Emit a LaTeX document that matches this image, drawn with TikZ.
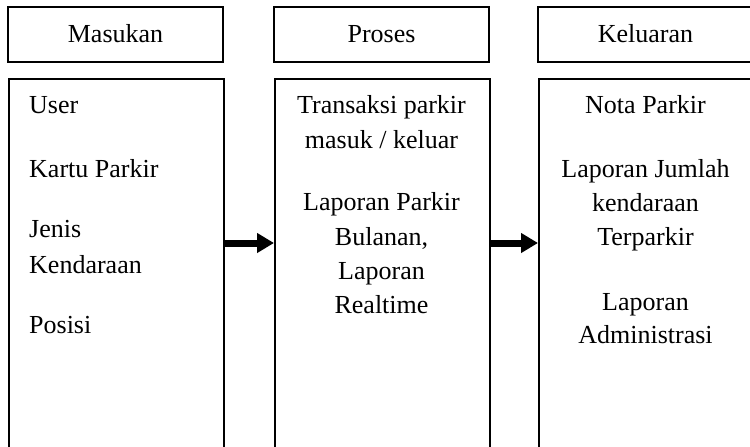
\documentclass[tikz,border=0pt]{standalone}
\usepackage{fontspec}
\setmainfont{Liberation Serif}
\usetikzlibrary{arrows.meta}
\begin{document}
\begin{tikzpicture}[x=1pt,y=-1pt,
  box/.style={draw=black,line width=1.8pt,fill=none},
  lbl/.style={inner sep=0pt,font=\fontsize{26}{34}\selectfont,anchor=base},
  lbll/.style={lbl,anchor=base west},
  flow/.style={line width=7pt,-{Triangle[length=17pt,width=19pt]}}]
\useasboundingbox (0,0) rectangle (750,447);
\clip (0,0) rectangle (750,447);
% column headers
\draw[box] (8,7) rectangle (223,62);
\draw[box] (274,7) rectangle (489,62);
\draw[box] (538,7) rectangle (753,62);
\node[lbl] (hin)  at (115.5,42) {Masukan};
\node[lbl] (hpro) at (381.5,42) {Proses};
\node[lbl] (hout) at (645.5,42) {Keluaran};
% column bodies
\node[box,minimum width=215pt,minimum height=369pt,inner sep=0pt,anchor=north west] (bin)  at (8,78) {};
\node[box,minimum width=215pt,minimum height=369pt,inner sep=0pt,anchor=north west] (bpro) at (274,78) {};
\node[box,minimum width=215pt,minimum height=369pt,inner sep=0pt,anchor=north west] (bout) at (538,78) {};
% input items
\node[lbll] (i1) at (29,113) {User};
\node[lbll] (i2) at (29,177) {Kartu Parkir};
\node[lbll] (i3) at (29,237) {Jenis};
\node[lbll] (i4) at (29,273) {Kendaraan};
\node[lbll] (i5) at (29,333) {Posisi};
% process items
\node[lbl] (p1) at (381.5,113) {Transaksi parkir};
\node[lbl] (p2) at (381.5,148) {masuk / keluar};
\node[lbl] (p3) at (381.5,210) {Laporan Parkir};
\node[lbl] (p4) at (381.5,245) {Bulanan,};
\node[lbl] (p5) at (381.5,279.5) {Laporan};
\node[lbl] (p6) at (381.5,313.5) {Realtime};
% output items
\node[lbl] (o1) at (645.5,113) {Nota Parkir};
\node[lbl] (o2) at (645.5,177) {Laporan Jumlah};
\node[lbl] (o3) at (645.5,211.5) {kendaraan};
\node[lbl] (o4) at (645.5,245.5) {Terparkir};
\node[lbl] (o5) at (645.5,310) {Laporan};
\node[lbl] (o6) at (645.5,343.5) {Administrasi};
% flow arrows
\draw[flow] (bin.east |- 0,243) -- (bpro.west |- 0,243);
\draw[flow] (bpro.east |- 0,243) -- (bout.west |- 0,243);
\end{tikzpicture}
\end{document}
